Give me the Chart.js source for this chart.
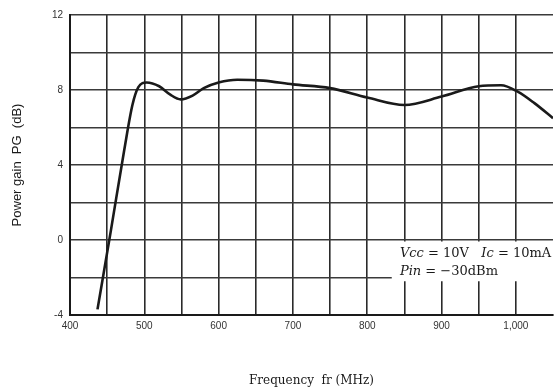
<!DOCTYPE html>
<html>
<head>
<meta charset="utf-8">
<script src="https://cdn.jsdelivr.net/npm/chart.js@4/dist/chart.umd.min.js"></script>
<style>
  html, body { margin: 0; padding: 0; background: #fff; overflow: hidden; }
  #wrap { width: 558px; height: 390px; }
</style>
</head>
<body>
<div id="wrap"><canvas id="chart" width="558" height="390"></canvas></div>
<script>
// values
const freqMHz = [437, 455, 473, 484, 492, 503, 520, 535, 549, 565, 580, 600, 625, 660, 700, 750, 800, 850, 900, 950, 980, 1003, 1025, 1050];
const gainDB = [-3.7, 0.5, 4.8, 7.2, 8.15, 8.4, 8.2, 7.75, 7.5, 7.7, 8.1, 8.4, 8.55, 8.5, 8.3, 8.1, 7.6, 7.2, 7.65, 8.2, 8.25, 7.9, 7.3, 6.5];
const xRange = [400, 1050];
const yRange = [-4, 12];
const noteLines = [
    [['Vcc', true], [' = 10V   ', false], ['Ic', true], [' = 10mA', false]],
    [['Pin', true], [' = \u221230dBm', false]]
];

const serif = '"DejaVu Serif", "Liberation Serif", serif';
const sans = '"Liberation Sans", Arimo, sans-serif';
const ink = '#1a1a1a';

// white patch behind the bias conditions, like the printed figure
const notePlugin = {
    id: 'note',
    beforeDatasetsDraw(chart) {
        const { ctx, scales: { x, y } } = chart;
        const left = x.getPixelForValue(833);
        const top = y.getPixelForValue(0) + 1.5;
        const bottom = y.getPixelForValue(-2.2);
        ctx.save();
        ctx.fillStyle = '#fff';
        ctx.fillRect(left, top, chart.chartArea.right - left + 2, bottom - top);
        ctx.fillStyle = ink;
        ctx.textBaseline = 'middle';
        const rows = [top + 12, top + 30];
        noteLines.forEach((parts, i) => {
            let cx = x.getPixelForValue(844);
            parts.forEach(([txt, it]) => {
                ctx.font = (it ? 'italic ' : '') + '13px ' + serif;
                ctx.fillText(txt, cx, rows[i]);
                cx += ctx.measureText(txt).width;
            });
        });
        ctx.restore();
    }
};

new Chart(document.getElementById('chart'), {
    type: 'line',
    data: {
        datasets: [{
            data: freqMHz.map((f, i) => ({ x: f, y: gainDB[i] })),
            borderColor: ink,
            borderWidth: 2.6,
            pointRadius: 0,
            cubicInterpolationMode: 'monotone',
            fill: false
        }]
    },
    options: {
        responsive: false,
        animation: false,
        layout: { padding: { top: 15, left: 0, right: 0, bottom: 0 } },
        plugins: {
            legend: { display: false },
            tooltip: { enabled: false }
        },
        scales: {
            x: {
                type: 'linear',
                min: xRange[0],
                max: xRange[1],
                afterFit: s => { s.height = 75; },
                ticks: {
                    stepSize: 50,
                    autoSkip: false,
                    maxRotation: 0,
                    padding: 5,
                    color: '#333',
                    font: { family: sans, size: 10 },
                    callback: v => v % 100 === 0 ? v.toLocaleString('en-US') : ''
                },
                grid: {
                    color: c => c.tick && c.tick.value >= xRange[1] ? 'rgba(0,0,0,0)' : '#2a2a2a',
                    lineWidth: 1.6,
                    drawTicks: false
                },
                border: { color: ink, width: 2 },
                title: {
                    display: true,
                    text: 'Frequency  fr (MHz)',
                    color: ink,
                    font: { family: serif, size: 12 },
                    padding: { top: 0, bottom: 2 }
                }
            },
            y: {
                min: yRange[0],
                max: yRange[1],
                afterFit: s => { s.width = 70; },
                ticks: {
                    stepSize: 2,
                    autoSkip: false,
                    padding: 7,
                    color: '#333',
                    font: { family: sans, size: 10 },
                    callback: v => v % 4 === 0 ? String(v) : ''
                },
                grid: {
                    color: '#3a3a3a',
                    lineWidth: 1.5,
                    drawTicks: false
                },
                border: { color: ink, width: 2 },
                title: {
                    display: true,
                    text: 'Power gain  PG  (dB)',
                    color: ink,
                    font: { family: sans, size: 13 },
                    padding: { top: 10, bottom: 0 }
                }
            }
        }
    },
    plugins: [notePlugin]
});
</script>
</body>
</html>
